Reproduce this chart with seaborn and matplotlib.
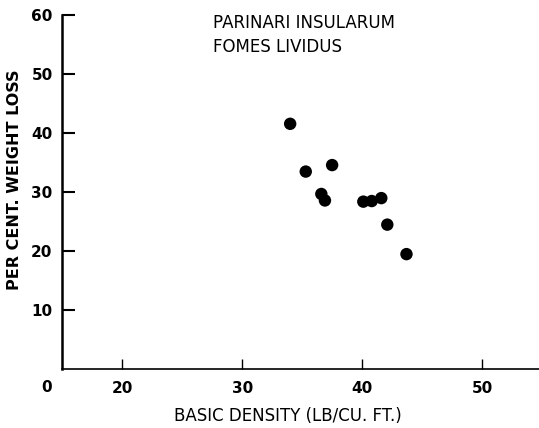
import matplotlib
matplotlib.use("Agg")
import matplotlib.pyplot as plt
import seaborn as sns
import pandas as pd

# Basic density (lb/cu. ft.) and per cent weight loss for each test block
density = [34.0, 35.3, 37.5, 36.6, 36.9, 40.1, 40.8, 41.6, 42.1, 43.7]
weight_loss = [41.5, 33.4, 34.5, 29.6, 28.5, 28.3, 28.4, 28.9, 24.4, 19.4]

x_ticks = [20, 30, 40, 50]
y_ticks = [10, 20, 30, 40, 50, 60]

title_lines = ["PARINARI INSULARUM", "FOMES LIVIDUS"]
x_label = "BASIC DENSITY (LB/CU. FT.)"
y_label = "PER CENT. WEIGHT LOSS"

sns.set_style("ticks")
plt.rcParams["font.family"] = ["DejaVu Sans"]
plt.rcParams["text.color"] = "black"
plt.rcParams["axes.labelcolor"] = "black"
plt.rcParams["xtick.color"] = "black"
plt.rcParams["ytick.color"] = "black"

df = pd.DataFrame({"density": density, "loss": weight_loss})

fig = plt.figure(figsize=(5.39, 4.28), dpi=100)
ax = fig.add_axes([0.1156, 0.139, 0.8844, 0.8266])

sns.scatterplot(data=df, x="density", y="loss", color="black", s=80,
                edgecolor="none", ax=ax, legend=False, zorder=3)

ax.set_xlim(15, 54.75)
ax.set_ylim(0, 60)
ax.set_xticks(x_ticks)
ax.set_yticks(y_ticks)
ax.set_xticklabels([str(v) for v in x_ticks], fontweight="bold", fontsize=11)
ax.set_yticklabels([str(v) for v in y_ticks], fontweight="bold", fontsize=11)

sns.despine(ax=ax, top=True, right=True)
ax.spines["left"].set_linewidth(1.8)
ax.spines["bottom"].set_linewidth(1.2)
ax.spines["left"].set_color("black")
ax.spines["bottom"].set_color("black")

ax.tick_params(axis="y", direction="in", length=9, width=1.5, pad=7)
ax.tick_params(axis="x", direction="in", length=7, width=1.0, pad=9)

# origin label at the corner
ax.annotate("0", xy=(13.7, 0), xycoords="data", xytext=(0, -18.5),
            textcoords="offset pixels", ha="center", va="center",
            fontweight="bold", fontsize=11, color="black",
            annotation_clip=False)

ax.set_xlabel(x_label, fontsize=12)
ax.xaxis.set_label_coords(0.4735, -0.134)
ax.xaxis.label.set_va("center")

ax.set_ylabel(y_label, fontsize=11.5, fontweight="bold")
ax.yaxis.set_label_coords(-0.101, 0.533)
ax.yaxis.label.set_va("center")

ax.text(0.3155, 0.9624, title_lines[0], transform=ax.transAxes,
        ha="left", va="baseline", fontsize=12, color="black")
ax.text(0.3155, 0.8946, title_lines[1], transform=ax.transAxes,
        ha="left", va="baseline", fontsize=12, color="black")

fig.savefig("out.png", dpi=100)
